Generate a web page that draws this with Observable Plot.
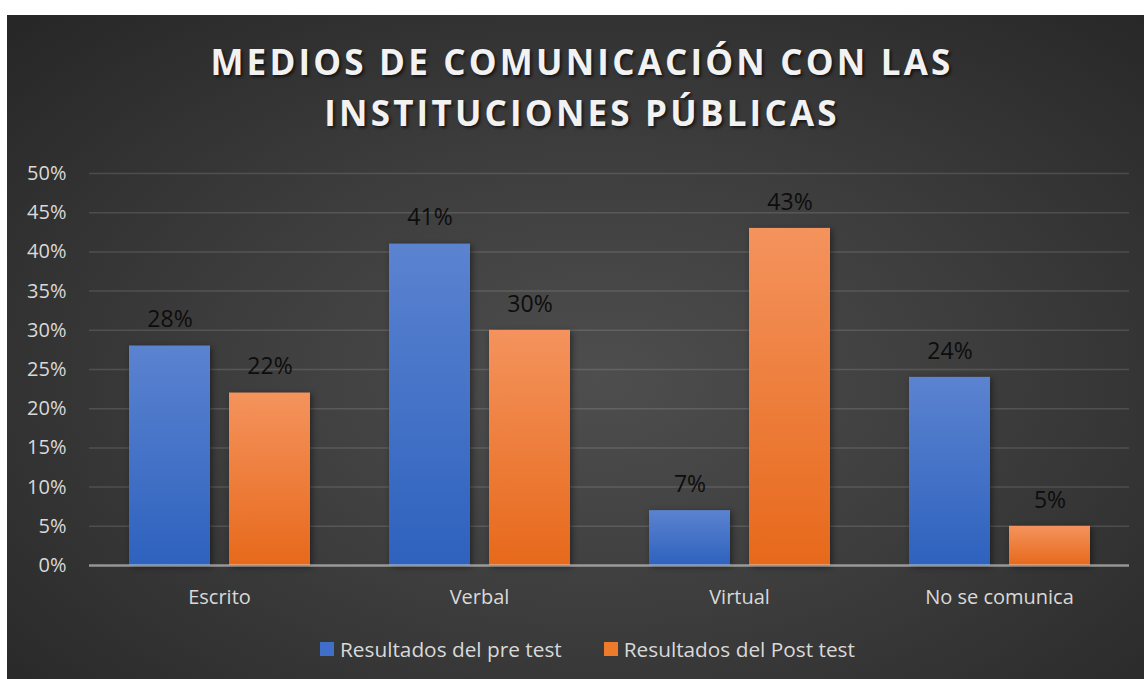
<!DOCTYPE html>
<html><head><meta charset="utf-8">
<script src="https://cdn.jsdelivr.net/npm/d3@7"></script>
<script src="https://cdn.jsdelivr.net/npm/@observablehq/plot@0.6"></script>
<style>
body{margin:0;background:#fff;font-family:"Open Sans",sans-serif;}
#card{position:absolute;left:7px;top:15px;width:1137px;height:664px;overflow:hidden;
 background:radial-gradient(ellipse farthest-corner at 52% 55%, #4e4e4e 0%, #3d3d3d 45%, #262626 100%);}
#title{position:absolute;left:0;top:21px;width:1150px;text-align:center;font-weight:700;font-size:35px;line-height:51px;letter-spacing:3.2px;color:#f2f2f2;text-shadow:2px 2px 3px rgba(0,0,0,0.6);}
#plot{position:absolute;left:0;top:135px;}
#plot svg g[aria-label="bar"] rect{filter:drop-shadow(2px 2px 3px rgba(0,0,0,0.45));}
#legend{position:absolute;left:313px;top:620px;display:flex;align-items:center;font-size:20.8px;color:#d9d9d9;line-height:28px;}
.sw{width:14px;height:14px;display:inline-block;margin-right:6px;}
.item{display:flex;align-items:center;margin-right:42px;}
</style></head>
<body>
<div id="card">
  <div id="title">MEDIOS DE COMUNICACIÓN CON LAS<br>INSTITUCIONES PÚBLICAS</div>
  <div id="plot"></div>
  <div id="legend"></div>
</div>
<script>
const categories = ["Escrito", "Verbal", "Virtual", "No se comunica"];
const seriesNames = ["Resultados del pre test", "Resultados del Post test"];
const preValues = [28, 41, 7, 24];
const postValues = [22, 30, 43, 5];
const yTicks = [0, 5, 10, 15, 20, 25, 30, 35, 40, 45, 50];
const seriesColors = ["#3f6fc8", "#ee7a2c"];

const data = [];
categories.forEach((c, i) => {
  data.push({cat: c, series: seriesNames[0], value: preValues[i]});
  data.push({cat: c, series: seriesNames[1], value: postValues[i]});
});

const chart = Plot.plot({
  width: 1137,
  height: 470,
  marginLeft: 81,
  marginRight: 15,
  marginTop: 23,
  marginBottom: 55,
  style: {background: "transparent", color: "#d9d9d9", fontSize: "20px", fontFamily: "Open Sans"},
  fx: {domain: categories, padding: 0, axis: "bottom", tickSize: 0, tickPadding: 24, label: null},
  x: {domain: seriesNames, paddingInner: 0.19, paddingOuter: 0.395, axis: null},
  y: {domain: [0, 50], ticks: yTicks, tickFormat: d => d + "%", tickSize: 0, tickPadding: 23, label: null},
  marks: [
    Plot.ruleY(yTicks.filter(d => d > 0), {stroke: "#ffffff", strokeOpacity: 0.13, strokeWidth: 1.5}),
    Plot.barY(data.filter(d => d.series === seriesNames[0]), {fx: "cat", x: "series", y: "value", fill: "url(#gBlue)"}),
    Plot.barY(data.filter(d => d.series === seriesNames[1]), {fx: "cat", x: "series", y: "value", fill: "url(#gOrange)"}),
    Plot.ruleY([0], {stroke: "#d9d9d9", strokeOpacity: 0.6, strokeWidth: 2.5}),
    Plot.text(data, {fx: "cat", x: "series", y: "value", text: d => Math.round(d.value) + "%", dy: -26, fill: "#0d0d0d", fontSize: 23})
  ]
});

chart.insertAdjacentHTML("afterbegin",
  `<defs>
    <linearGradient id="gBlue" x1="0" y1="0" x2="0" y2="1">
      <stop offset="0" stop-color="#5b83d0"/><stop offset="1" stop-color="#2e62be"/>
    </linearGradient>
    <linearGradient id="gOrange" x1="0" y1="0" x2="0" y2="1">
      <stop offset="0" stop-color="#f4935d"/><stop offset="1" stop-color="#e7691b"/>
    </linearGradient>
  </defs>`);
document.getElementById("plot").appendChild(chart);

const legend = document.getElementById("legend");
seriesNames.forEach((s, i) => {
  const it = document.createElement("div");
  it.className = "item";
  it.innerHTML = `<span class="sw" style="background:${seriesColors[i]}"></span><span>${s}</span>`;
  legend.appendChild(it);
});
</script>
</body></html>
